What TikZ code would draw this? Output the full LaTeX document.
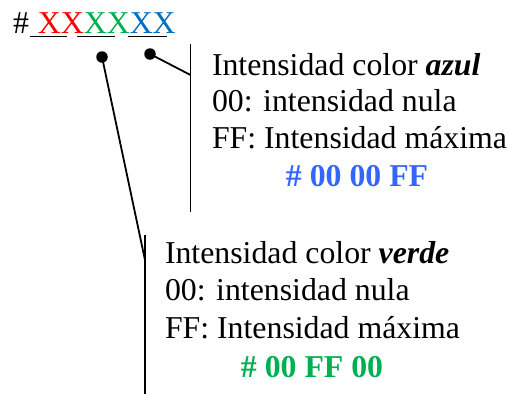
\documentclass[tikz,border=0pt]{standalone}
\usepackage{fontspec}
\setmainfont{Liberation Serif}
\definecolor{xred}{RGB}{255,0,0}
\definecolor{xgreen}{RGB}{0,176,80}
\definecolor{xblue}{RGB}{0,112,192}
\definecolor{codeblue}{RGB}{51,102,255}
\begin{document}
\begin{tikzpicture}[x=1pt,y=-1pt,
  txt/.style={inner sep=0pt,outer sep=0pt,font=\fontsize{31.8}{37}\selectfont},
  lbl/.style={txt,anchor=base west},
  code/.style={txt,anchor=base,font=\fontsize{31.8}{37}\selectfont\bfseries},
  dot/.style={circle,fill=black,inner sep=0pt,minimum size=11.5pt},
  lead/.style={line width=1.8pt,black},
  uline/.style={line width=1.8pt,black}]
\useasboundingbox (0,0) rectangle (509,394);
% header
\node[lbl] (hdr) at (13,33.5) {\#\hspace{9pt}\textcolor{xred}{XX}\textcolor{xgreen}{XX}\textcolor{xblue}{XX}};
\draw[uline] (30,36.5) -- (67,36.5);
\draw[uline] (77,36.5) -- (115,36.5);
\draw[uline] (128,36.5) -- (167,36.5);
% dots
\node[dot] (dotG) at (102,57) {};
\node[dot] (dotB) at (150,54) {};
% blue bracket
\coordinate (bTop) at (190.5,44);
\coordinate (bJoin) at (190.5,75);
\coordinate (bBot) at (190.5,212);
\draw[lead] (bTop) -- (bBot);
\draw[lead] (dotB.center) -- (bJoin);
% green bracket
\coordinate (gTop) at (145,235);
\coordinate (gJoin) at (145,260);
\coordinate (gBot) at (145,394);
\draw[lead] (gTop) -- (gBot);
\draw[lead] (dotG.center) -- (gJoin);
% blue text
\node[lbl] (b1) at (212,75) {Intensidad color \textbf{\textit{azul}}};
\node[lbl] (b2) at (212,111.7) {00: intensidad nula};
\node[lbl] (b3) at (212,148.4) {FF: Intensidad máxima};
\node[code,text=codeblue] (b4) at (357,186.7) {\# 00 00 FF};
% green text
\node[lbl] (g1) at (165,263) {Intensidad color \textbf{\textit{verde}}};
\node[lbl] (g2) at (165,300) {00: intensidad nula};
\node[lbl] (g3) at (165,338) {FF: Intensidad máxima};
\node[code,text=xgreen] (g4) at (312,377) {\# 00 FF 00};
\end{tikzpicture}
\end{document}
